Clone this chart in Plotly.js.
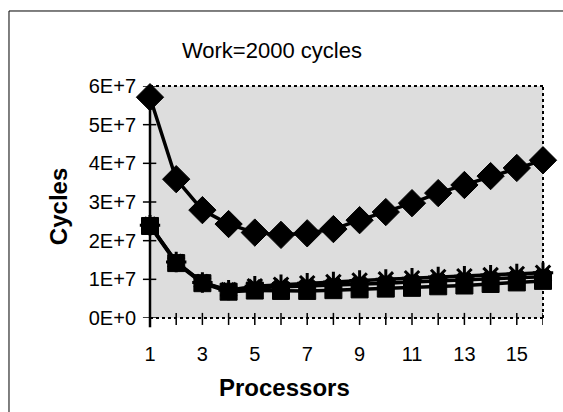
<!DOCTYPE html>
<html><head><meta charset="utf-8">
<script src="https://cdn.plot.ly/plotly-3.0.1.min.js"></script>
<style>body{margin:0;background:#fff}#c{width:563px;height:412px}</style>
</head><body><div id="c"></div>
<script>
var processors = [1,2,3,4,5,6,7,8,9,10,11,12,13,14,15,16];
var seriesDiamond = [5.71e7,3.59e7,2.79e7,2.43e7,2.21e7,2.15e7,2.19e7,2.30e7,2.53e7,2.74e7,2.97e7,3.23e7,3.44e7,3.67e7,3.88e7,4.08e7];
var seriesSquare  = [2.38e7,1.42e7,0.90e7,0.68e7,0.71e7,0.70e7,0.70e7,0.72e7,0.74e7,0.76e7,0.78e7,0.82e7,0.84e7,0.88e7,0.92e7,0.96e7];
var seriesX       = [2.40e7,1.44e7,0.92e7,0.70e7,0.78e7,0.80e7,0.82e7,0.85e7,0.88e7,0.90e7,0.93e7,0.96e7,0.98e7,1.01e7,1.04e7,1.07e7];
var seriesStar    = [2.40e7,1.45e7,0.92e7,0.72e7,0.82e7,0.86e7,0.90e7,0.93e7,0.97e7,1.00e7,1.03e7,1.06e7,1.08e7,1.11e7,1.14e7,1.17e7];
var yTickVals = [0,1e7,2e7,3e7,4e7,5e7,6e7];
var yTickText = ['0E+0','1E+7','2E+7','3E+7','4E+7','5E+7','6E+7'];
var xTickVals = [1,3,5,7,9,11,13,15];

var F = 'Liberation Sans, Arial, sans-serif';
function tr(y, sym, size, lw){
  return {x: processors, y: y, type:'scatter', mode:'lines+markers',
    line:{color:'#000', width:3.5},
    marker:{symbol:sym, size:size, color:'#000', line:{color:'#000', width:lw}},
    showlegend:false, hoverinfo:'skip', cliponaxis:false};
}
var data = [
  tr(seriesSquare,'square',17,1),
  tr(seriesX,'x',15,1),
  tr(seriesStar,'asterisk-open',17,3),
  tr(seriesDiamond,'diamond',21,1)
];
var shapes = [];
processors.forEach(function(p){
  shapes.push({type:'line', xref:'x', yref:'paper', x0:p, x1:p, y0:-0.03, y1:0.022, line:{color:'#000', width:1.5}});
});
yTickVals.forEach(function(v){
  shapes.push({type:'line', xref:'paper', yref:'y', x0:-0.018, x1:0.016, y0:v, y1:v, line:{color:'#000', width:1.5}});
});
shapes.push({type:'line', xref:'paper', yref:'paper', x0:0, x1:1, y0:1, y1:1, line:{color:'#000', width:2, dash:'dot'}});
shapes.push({type:'line', xref:'paper', yref:'paper', x0:1, x1:1, y0:0, y1:1, line:{color:'#000', width:2, dash:'dot'}});
shapes.push({type:'line', xref:'paper', yref:'paper', x0:0, x1:1, y0:0, y1:0, line:{color:'#000', width:2, dash:'dot'}});
shapes.push({type:'line', xref:'paper', yref:'paper', x0:0, x1:0, y0:-0.04, y1:1, line:{color:'#000', width:2.5}});
shapes.push({type:'line', xref:'paper', yref:'paper', x0:-0.3588, x1:1.1, y0:1.3233, y1:1.3233, line:{color:'#000', width:1}});
shapes.push({type:'line', xref:'paper', yref:'paper', x0:-0.3588, x1:-0.3588, y0:-0.5, y1:1.3233, line:{color:'#000', width:1}});

var layout = {
  width:563, height:412,
  margin:{l:150, r:20, t:86, b:94},
  paper_bgcolor:'#fff', plot_bgcolor:'#dddddd',
  font:{family:F, size:20, color:'#000'},
  title:{text:'Work=2000 cycles', font:{family:F, size:22}, x:0.483, xanchor:'center', y:1-50/412, yanchor:'middle', yref:'container'},
  xaxis:{range:[1,16], tickvals:xTickVals, ticks:'', showgrid:false, zeroline:false, showline:false,
    ticklabelstandoff:22, tickfont:{family:F, size:20}},
  yaxis:{range:[0,6e7], tickvals:yTickVals, ticktext:yTickText, ticks:'', showgrid:false, zeroline:false, showline:false,
    ticklabelstandoff:13, tickfont:{family:F, size:20}},
  annotations:[
    {text:'<b>Processors</b>', xref:'paper', yref:'paper', x:0.341, y:-0.3017, xanchor:'center', yanchor:'middle', showarrow:false, font:{family:F, size:24}},
    {text:'<b>Cycles</b>', xref:'paper', yref:'paper', x:-0.234, y:0.478, xanchor:'center', yanchor:'middle', textangle:-90, showarrow:false, font:{family:F, size:24}}
  ],
  shapes:shapes
};
Plotly.newPlot('c', data, layout, {displayModeBar:false, staticPlot:true});
</script></body></html>
